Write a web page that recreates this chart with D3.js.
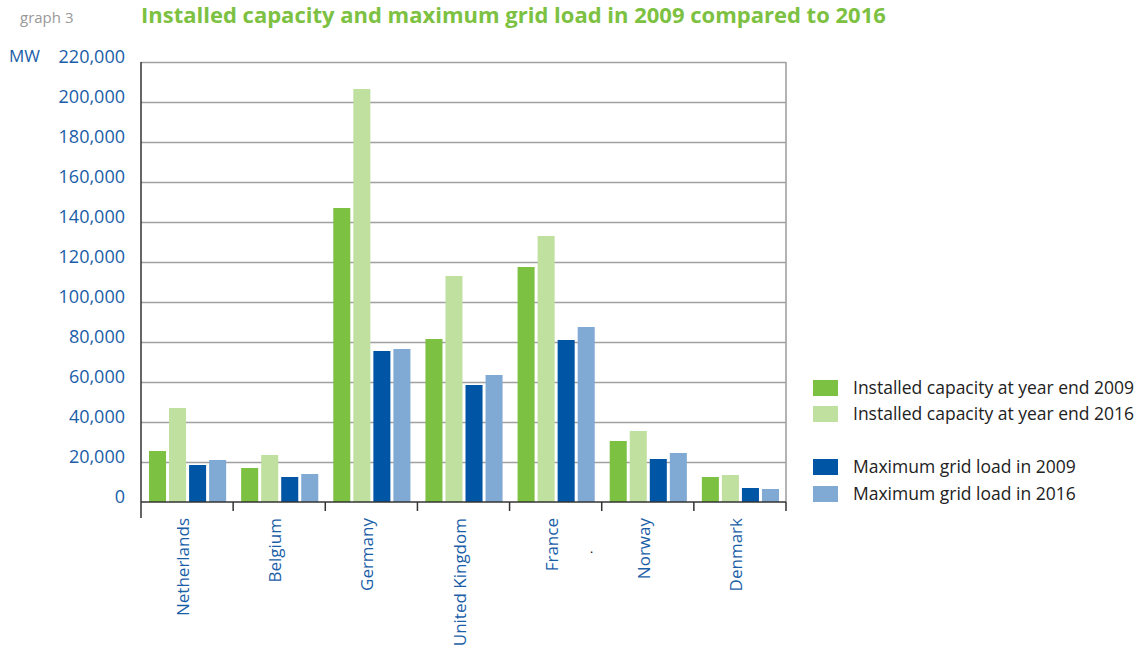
<!DOCTYPE html>
<html>
<head>
<meta charset="utf-8">
<script src="https://cdn.jsdelivr.net/npm/d3@7"></script>
<style>
  body { margin: 0; background: #fff; }
  svg text { font-family: "Open Sans", "Noto Sans", sans-serif; }
</style>
</head>
<body>
<div id="chart"></div>
<script>
// Countries on the x axis
const countries = ['Netherlands', 'Belgium', 'Germany', 'United Kingdom', 'France', 'Norway', 'Denmark'];

// Values in MW
const capacity2009 = [25500, 17000, 147000, 81500, 117500, 30500, 12500];
const capacity2016 = [47000, 23500, 206500, 113000, 133000, 35500, 13500];
const gridLoad2009 = [18500, 12500, 75500, 58500, 81000, 21500, 7000];
const gridLoad2016 = [21000, 14000, 76500, 63500, 87500, 24500, 6500];

const seriesNames = [
  'Installed capacity at year end 2009',
  'Installed capacity at year end 2016',
  'Maximum grid load in 2009',
  'Maximum grid load in 2016'
];
const yTicks = [0, 20000, 40000, 60000, 80000, 100000, 120000, 140000, 160000, 180000, 200000, 220000];

const colors = ['#7dc142', '#c0e0a0', '#0055a4', '#80aad4'];
const blue = '#1a5ea8';

const width = 1141, height = 650;
const margin = {top: 62, right: 355, bottom: 148, left: 141};

const series = [capacity2009, capacity2016, gridLoad2009, gridLoad2016];
const rows = countries.map((c, i) => ({country: c, values: series.map(s => s[i])}));

const svg = d3.select('#chart').append('svg')
    .attr('width', width)
    .attr('height', height);

const x0 = d3.scaleBand()
    .domain(countries)
    .range([margin.left, width - margin.right]);

const x1 = d3.scaleBand()
    .domain(d3.range(series.length))
    .range([8, x0.bandwidth() - 7])
    .paddingInner(0.15);

const y = d3.scaleLinear()
    .domain([0, 220000])
    .range([height - margin.bottom, margin.top]);

// Grid lines
svg.append('g')
   .attr('transform', `translate(${margin.left},0)`)
   .call(d3.axisLeft(y)
          .tickValues(yTicks.slice(1))
          .tickSize(-(width - margin.left - margin.right))
          .tickFormat(''))
   .call(g => g.select('.domain').remove())
   .call(g => g.selectAll('line').attr('stroke', '#a0a0a0').attr('stroke-width', 1.6));

// right border
svg.append('line')
   .attr('x1', width - margin.right).attr('x2', width - margin.right)
   .attr('y1', y(220000)).attr('y2', y(0))
   .attr('stroke', '#a0a0a0').attr('stroke-width', 1.6);

// Bars
const groups = svg.append('g')
  .selectAll('g')
  .data(rows)
  .join('g')
    .attr('transform', d => `translate(${x0(d.country)},0)`);

groups.selectAll('rect')
  .data(d => d.values.map((v, k) => ({k, v})))
  .join('rect')
    .attr('x', d => x1(d.k))
    .attr('width', x1.bandwidth())
    .attr('y', d => y(d.v))
    .attr('height', d => y(0) - y(d.v))
    .attr('fill', d => colors[d.k]);

// Y axis (labels sit a little above their grid line)
svg.append('g')
   .attr('transform', `translate(${margin.left},0)`)
   .call(d3.axisLeft(y).tickValues(yTicks).tickSize(0).tickPadding(16)
          .tickFormat(d3.format(',')))
   .call(g => g.select('.domain').remove())
   .call(g => g.selectAll('text')
               .attr('dy', '0.05em')
               .attr('fill', blue)
               .attr('font-size', 18)
               .attr('font-family', '"Open Sans", sans-serif'));

svg.append('line')
   .attr('x1', margin.left).attr('x2', margin.left)
   .attr('y1', y(220000)).attr('y2', y(0) + 16)
   .attr('stroke', '#333').attr('stroke-width', 1.5);

// X axis
const bounds = countries.map(c => x0(c)).concat([width - margin.right]);
svg.append('line')
   .attr('x1', margin.left).attr('x2', width - margin.right)
   .attr('y1', y(0)).attr('y2', y(0))
   .attr('stroke', '#333').attr('stroke-width', 1.5);
svg.append('g')
  .selectAll('line')
  .data(bounds.slice(1))
  .join('line')
    .attr('x1', d => d).attr('x2', d => d)
    .attr('y1', y(0)).attr('y2', y(0) + 9)
    .attr('stroke', '#333').attr('stroke-width', 1.5);

svg.append('g')
  .selectAll('text')
  .data(countries)
  .join('text')
    .attr('transform', d => `translate(${x0(d) + x0.bandwidth() / 2 + 2},${y(0) + 16}) rotate(-90)`)
    .attr('text-anchor', 'end')
    .attr('fill', blue)
    .attr('font-size', 17)
    .text(d => d);

// stray dot from the original
svg.append('text')
   .attr('x', 590).attr('y', 553)
   .attr('font-size', 12)
   .attr('fill', '#000')
   .text('.');

// Unit label and titles
svg.append('text')
   .attr('x', 9).attr('y', 62)
   .attr('fill', blue)
   .attr('font-size', 17)
   .text('MW');

svg.append('text')
   .attr('x', 20).attr('y', 23)
   .attr('fill', '#999')
   .attr('font-size', 15)
   .text('graph 3');

svg.append('text')
   .attr('x', 141).attr('y', 23)
   .attr('fill', '#7dc142')
   .attr('font-size', 22)
   .attr('font-weight', 'bold')
   .text('Installed capacity and maximum grid load in 2009 compared to 2016');

// Legend
const legendY = [380, 406, 459, 486];
const legend = svg.append('g')
  .selectAll('g')
  .data(seriesNames)
  .join('g')
    .attr('transform', (d, i) => `translate(813,${legendY[i]})`);

legend.append('rect')
    .attr('width', 25)
    .attr('height', 16)
    .attr('fill', (d, i) => colors[i]);

legend.append('text')
    .attr('x', 40)
    .attr('y', 14)
    .attr('fill', '#222')
    .attr('font-size', 17.5)
    .text(d => d);
</script>
</body>
</html>
